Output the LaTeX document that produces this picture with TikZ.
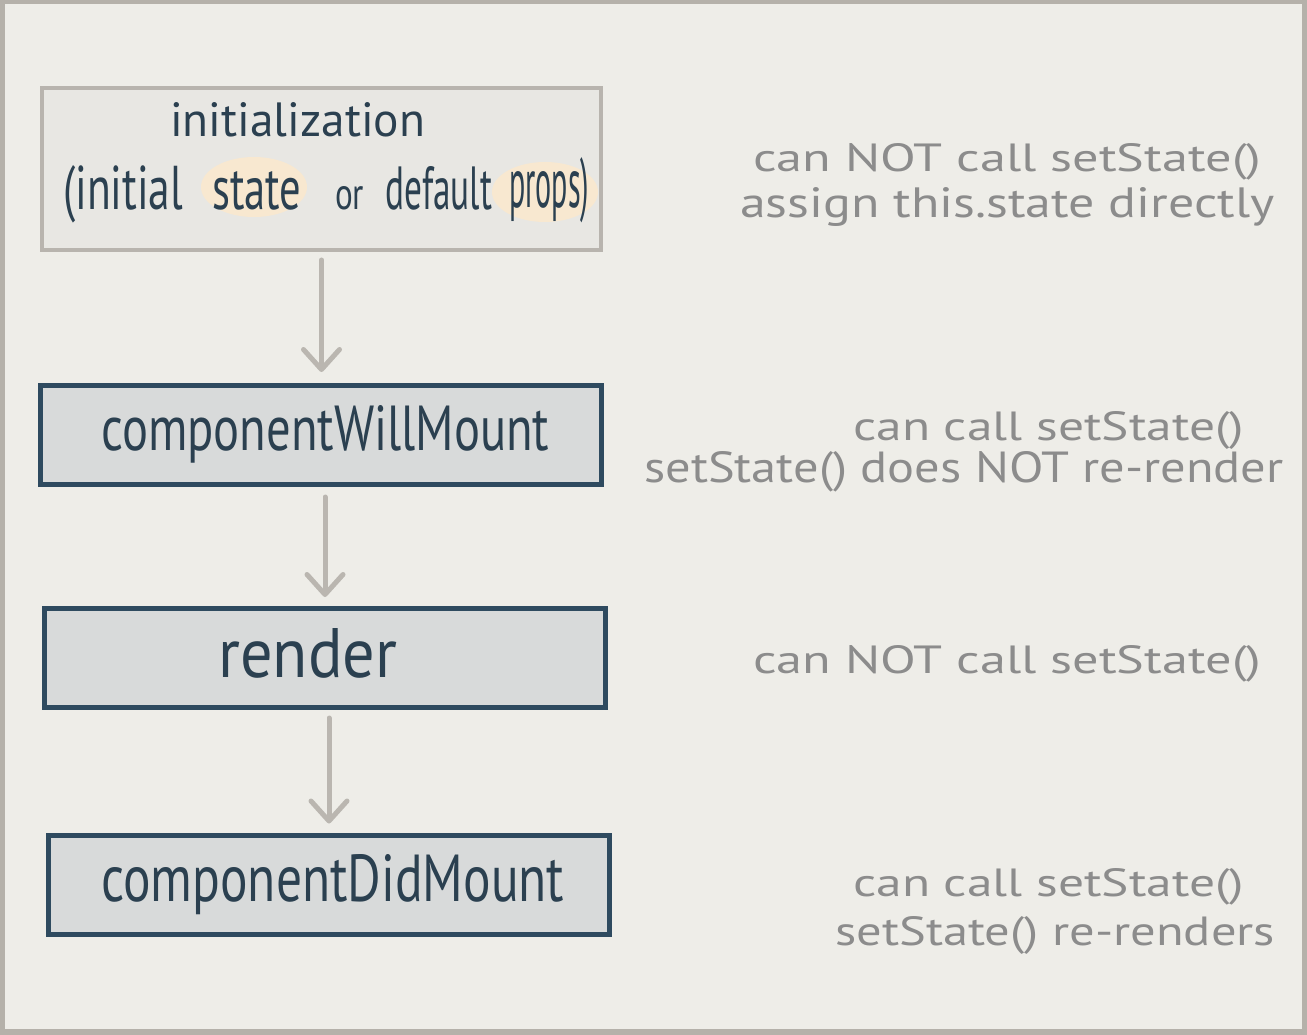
\documentclass[tikz,border=0pt]{standalone}
\usepackage{fontspec}
\setmainfont{PT Sans}
\usetikzlibrary{arrows.meta,shapes.geometric}
\definecolor{bgc}{HTML}{EEEDE8}
\definecolor{framec}{HTML}{B5B1AA}
\definecolor{initfill}{HTML}{E8E7E3}
\definecolor{initdraw}{HTML}{B8B4AE}
\definecolor{boxfill}{HTML}{D8DADA}
\definecolor{boxdraw}{HTML}{2E4A5F}
\definecolor{inkc}{HTML}{2B4050}
\definecolor{notec}{HTML}{8C8C8C}
\definecolor{arrowc}{HTML}{BAB6B0}
\definecolor{hlc}{HTML}{F8E8D0}
\newcommand{\fitwh}[3]{\resizebox{#1}{#2}{#3}}
\begin{document}
\begin{tikzpicture}[x=1pt,y=-1pt,
  initbox/.style={draw=initdraw, fill=initfill, line width=4pt, minimum width=559pt, minimum height=162pt, inner sep=0pt},
  stagebox/.style={draw=boxdraw, fill=boxfill, line width=5pt, minimum width=561pt, minimum height=99pt, inner sep=0pt},
  ink/.style={text=inkc, inner sep=0pt, anchor=base west},
  note/.style={text=notec, inner sep=0pt, anchor=base west},
  hl/.style={ellipse, fill=hlc, inner sep=0pt},
  flow/.style={draw=arrowc, line width=5pt, line cap=round, -{Straight Barb[length=20pt,width=36pt,round]}}
]
\useasboundingbox (0,0) rectangle (1307,1035);
\fill[framec] (0,0) rectangle (1307,1035);
\fill[bgc] (5,4) rectangle (1302,1029);

% boxes
\node[initbox] (init) at (321.5,169) {};
\node[stagebox] (cwm) at (321,435) {};
\node[stagebox] (rend) at (325,658) {};
\node[stagebox] (cdm) at (329,884.5) {};

% highlights
\node[hl, minimum width=106pt, minimum height=60pt] (hlstate) at (254,187) {};
\node[hl, minimum width=106pt, minimum height=60pt] (hlprops) at (545,192) {};

% box texts
\node[ink] (tinit) at (170,137) {\fitwh{255pt}{34pt}{initialization}};
\node[ink] (wparen) at (63,210) {\fitwh{120pt}{44pt}{(initial}};
\node[ink] (wstate) at (212,210) {\fitwh{89pt}{38pt}{state}};
\node[ink] (wor) at (335,210) {\fitwh{29pt}{23pt}{or}};
\node[ink] (wdef) at (385,210) {\fitwh{107pt}{43pt}{default}};
\node[ink] (wprops) at (509,208) {\fitwh{80pt}{50pt}{props)}};
\node[ink] (tcwm) at (101,450) {\fitwh{448pt}{45pt}{componentWillMount}};
\node[ink] (trend) at (218,677) {\fitwh{179pt}{49pt}{render}};
\node[ink] (tcdm) at (101,901) {\fitwh{463pt}{47pt}{componentDidMount}};

% notes
\node[note] (n1a) at (753,172) {\fitwh{508pt}{28pt}{can NOT call setState()}};
\node[note] (n1b) at (740,218) {\fitwh{534pt}{30pt}{assign this.state directly}};
\node[note] (n2a) at (853,440) {\fitwh{391pt}{29pt}{can call setState()}};
\node[note] (n2b) at (644,482) {\fitwh{639pt}{31pt}{setState() does NOT re-render}};
\node[note] (n3) at (753,673) {\fitwh{508pt}{28pt}{can NOT call setState()}};
\node[note] (n4a) at (853,896) {\fitwh{391pt}{28pt}{can call setState()}};
\node[note] (n4b) at (835,945) {\fitwh{440pt}{29pt}{setState() re-renders}};

% arrows
\draw[flow, shorten <=8pt, shorten >=11pt] (init.south) -- (init.south |- cwm.north);
\draw[flow, shorten <=10pt, shorten >=9pt] (rend.north |- cwm.south) -- (rend.north);
\draw[flow, shorten <=8pt, shorten >=9pt] (cdm.north |- rend.south) -- (cdm.north);
\end{tikzpicture}
\end{document}
